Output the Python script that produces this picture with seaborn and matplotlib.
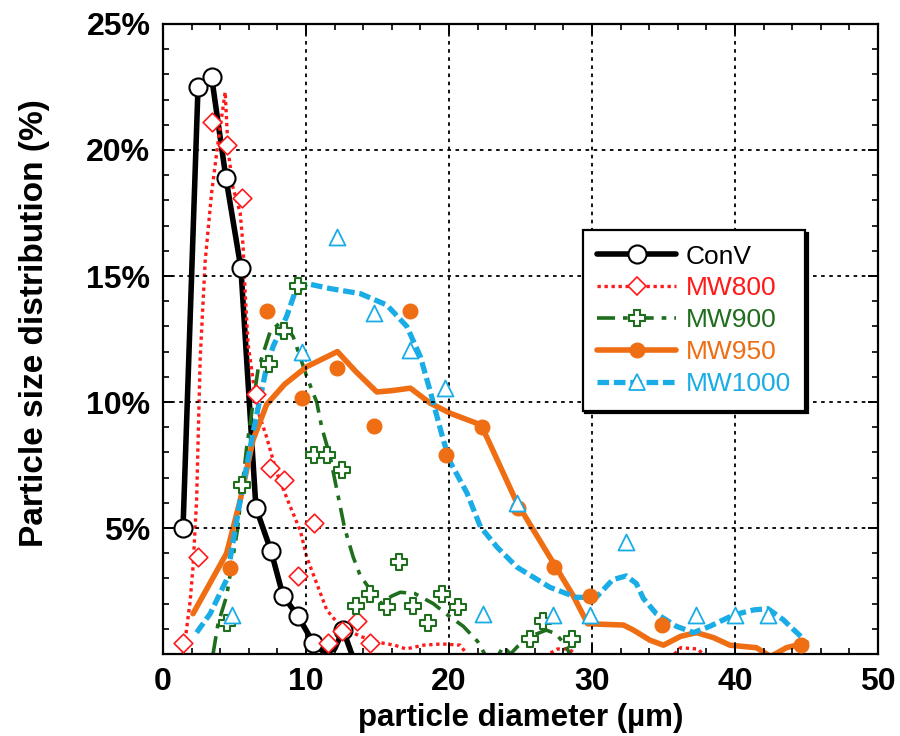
import matplotlib
matplotlib.use("Agg")
import matplotlib.pyplot as plt
from matplotlib.lines import Line2D
from matplotlib.ticker import MultipleLocator, FixedLocator
import seaborn as sns

# ---------------- data (x in µm, y in %) ----------------
conv_x = [1.4, 2.45, 3.4, 4.4, 5.45, 6.5, 7.55, 8.4, 9.45, 10.5, 12.6]
conv_y = [5.0, 22.5, 22.9, 18.9, 15.3, 5.8, 4.1, 2.3, 1.5, 0.45, 0.95]
conv_fit_x = [1.4, 2.45, 3.4, 4.4, 5.45, 6.5, 7.55, 8.4, 9.45, 10.5, 11.3, 12.0, 12.6, 13.2]
conv_fit_y = [5.0, 22.5, 22.9, 18.9, 15.3, 5.8, 4.1, 2.3, 1.5, 0.45, 0.05, 0.2, 0.95, 0.0]

mw800_x = [1.4, 2.45, 3.4, 4.45, 5.5, 6.5, 7.5, 8.45, 9.45, 10.55, 11.55, 12.5, 13.55, 14.5]
mw800_y = [0.45, 3.85, 21.1, 20.2, 18.1, 10.3, 7.4, 6.9, 3.1, 5.2, 0.45, 0.9, 1.3, 0.45]
mw800_fit_x = [1.4, 1.55, 1.9, 2.1, 2.35, 2.6, 2.95, 3.4, 3.85, 4.35, 4.55, 4.9, 5.4, 5.6,
               5.75, 5.95, 6.1, 6.55, 7.25, 7.95, 8.9, 9.6, 10.05, 10.75, 11.45, 12.4,
               13.8, 15.2, 16.2, 17.0, 18.2, 19.5, 20.8, 21.6, 24.0, 26.0, 27.6, 28.4,
               29.4, 32.0, 35.6, 36.2, 37.4, 38.3]
mw800_fit_y = [0.0, 0.55, 2.1, 3.45, 6.1, 11.7, 15.6, 18.3, 20.3, 22.3, 20.0, 18.5, 17.5, 16.2,
               14.3, 12.3, 11.7, 9.8, 8.6, 7.2, 5.85, 4.9, 3.85, 2.8, 1.75, 1.1,
               0.7, 0.45, 0.35, 0.2, 0.35, 0.4, 0.35, -0.3, -0.5, -0.3, 0.2, 0.2,
               -0.3, -0.6, -0.1, 0.25, 0.2, -0.3]

mw900_x = [4.45, 5.5, 7.4, 8.45, 9.45, 10.55, 11.5, 12.5, 13.5, 14.5, 15.65, 16.5,
           17.5, 18.55, 19.5, 20.6, 25.7, 26.6, 28.6]
mw900_y = [1.25, 6.7, 11.5, 12.8, 14.6, 7.9, 7.9, 7.3, 1.9, 2.4, 1.85, 3.65,
           1.9, 1.25, 2.4, 1.85, 0.6, 1.3, 0.6]
mw900_fit_x = [3.5, 3.85, 4.45, 5.2, 5.85, 6.65, 7.5, 8.3, 9.1, 10.0, 10.4, 10.75, 11.1,
               11.7, 12.2, 12.7, 13.3, 13.8, 15.2, 16.0, 16.6, 17.6, 18.9, 19.9, 21.0,
               22.0, 22.5, 23.2, 23.8, 24.3, 24.8, 25.7, 26.8, 27.5, 28.2, 28.6]
mw900_fit_y = [0.0, 1.2, 2.3, 4.9, 8.2, 11.3, 12.8, 13.2, 12.6, 11.1, 10.5, 10.0, 9.0,
               7.8, 6.4, 5.0, 3.85, 3.1, 2.0, 2.3, 2.45, 2.4, 2.0, 1.55, 1.1,
               0.5, 0.0, -0.3, 0.3, 0.0, 0.3, 0.7, 0.95, 0.8, 0.3, -0.2]

mw950_x = [4.7, 7.25, 9.7, 12.15, 14.75, 17.3, 19.8, 22.3, 24.8, 27.35, 29.85, 34.9, 44.6]
mw950_y = [3.4, 13.6, 10.15, 11.35, 9.05, 13.6, 7.9, 9.0, 5.8, 3.45, 2.3, 1.15, 0.35]
mw950_fit_x = [2.1, 4.45, 5.4, 6.3, 7.25, 8.5, 10.05, 12.2, 13.5, 14.95, 16.0, 17.3, 18.7,
               20.1, 22.2, 22.65, 24.75, 27.05, 28.7, 29.7, 32.2, 32.9, 34.05, 35.0,
               36.2, 37.3, 38.5, 39.65, 41.5, 42.5, 43.6, 45.0]
mw950_fit_y = [1.6, 4.0, 6.1, 8.5, 9.9, 10.7, 11.4, 12.0, 11.2, 10.4, 10.45, 10.55, 9.95,
               9.55, 9.1, 8.6, 6.0, 3.85, 2.3, 1.2, 1.15, 0.95, 0.55, 0.35,
               0.7, 0.85, 0.65, 0.35, 0.25, -0.1, 0.25, 0.45]

mw1000_x = [4.8, 9.7, 12.2, 14.75, 17.3, 19.7, 22.4, 24.75, 27.3, 29.85, 32.4, 37.3, 40.0, 42.3]
mw1000_y = [1.55, 12.0, 16.55, 13.55, 12.05, 10.55, 1.6, 6.0, 1.55, 1.55, 4.45, 1.55, 1.55, 1.55]
mw1000_fit_x = [2.35, 3.3, 4.45, 5.4, 6.3, 7.25, 7.7, 8.65, 9.2, 10.05, 11.7, 13.8, 15.65,
                17.05, 18.0, 18.65, 19.6, 20.1, 21.25, 22.2, 23.35, 24.75, 27.05, 28.9,
                30.3, 31.45, 32.4, 33.1, 33.6, 34.5, 35.9, 37.1, 38.25, 39.9, 41.3, 42.3,
                43.4, 43.85, 44.7]
mw1000_fit_y = [0.85, 1.6, 2.95, 6.1, 8.8, 11.4, 12.2, 13.4, 14.3, 14.7, 14.5, 14.3, 13.85,
                13.0, 11.8, 10.5, 8.5, 7.6, 6.4, 5.05, 4.25, 3.45, 2.65, 2.25,
                2.25, 2.95, 3.1, 2.8, 2.2, 1.6, 1.1, 0.85, 1.1, 1.55, 1.75, 1.8,
                1.35, 1.1, 0.65]

series_names = ["ConV", "MW800", "MW900", "MW950", "MW1000"]
x_ticks = [0, 10, 20, 30, 40, 50]
y_ticks = [0, 5, 10, 15, 20, 25]
y_tick_labels = ["", "5%", "10%", "15%", "20%", "25%"]

# ---------------- styling ----------------
sns.set_theme(style="white")
plt.rcParams["font.family"] = ["Liberation Sans", "DejaVu Sans"]
plt.rcParams["text.color"] = "black"
plt.rcParams["axes.labelcolor"] = "black"
plt.rcParams["xtick.color"] = "black"
plt.rcParams["ytick.color"] = "black"

C_BLACK = "#000000"
C_RED = "#FF1A1A"
C_GREEN = "#1E6E1E"
C_ORANGE = "#EF6E14"
C_BLUE = "#1AACE6"

styles = [
    dict(color=C_BLACK, lw=4.0, ls="-", marker="o", ms=13, mfc="white", mec=C_BLACK, mew=1.5),
    dict(color=C_RED, lw=2.4, ls=(0, (1, 1.1)), marker="D", ms=9.5, mfc="white", mec=C_RED, mew=1.2),
    dict(color=C_GREEN, lw=2.6, ls=(0, (5, 2.2, 1.3, 2.2)), marker="P", ms=11.5, mfc="white", mec=C_GREEN, mew=1.5),
    dict(color=C_ORANGE, lw=4.0, ls="-", marker="o", ms=10.5, mfc=C_ORANGE, mec=C_ORANGE, mew=1.0),
    dict(color=C_BLUE, lw=3.8, ls=(0, (2.2, 0.9)), marker="^", ms=11.5, mfc="white", mec=C_BLUE, mew=1.3),
]

marks = [(conv_x, conv_y), (mw800_x, mw800_y), (mw900_x, mw900_y),
         (mw950_x, mw950_y), (mw1000_x, mw1000_y)]
fits = [(conv_fit_x, conv_fit_y), (mw800_fit_x, mw800_fit_y), (mw900_fit_x, mw900_fit_y),
        (mw950_fit_x, mw950_fit_y), (mw1000_fit_x, mw1000_fit_y)]

fig = plt.figure(figsize=(9, 7.36), dpi=100)
ax = fig.add_axes([0.1811, 0.1114, 0.7944, 0.856])

for (fx, fy), (mx, my), st in zip(fits, marks, styles):
    sns.lineplot(x=fx, y=fy, ax=ax, sort=False, estimator=None, color=st["color"],
                 linewidth=st["lw"], linestyle=st["ls"], legend=False)
    sns.scatterplot(x=mx, y=my, ax=ax, marker=st["marker"], s=st["ms"] ** 2,
                    facecolor=st["mfc"], edgecolor=st["mec"], linewidth=st["mew"],
                    legend=False, zorder=3)

ax.set_xlim(0, 50)
ax.set_ylim(0, 25)
ax.xaxis.set_major_locator(FixedLocator(x_ticks))
ax.set_xticklabels([str(t) for t in x_ticks])
ax.xaxis.set_minor_locator(MultipleLocator(2))
ax.yaxis.set_major_locator(FixedLocator(y_ticks))
ax.set_yticklabels(y_tick_labels)
ax.yaxis.set_minor_locator(MultipleLocator(1))

ax.grid(True, which="major", color="black", linestyle=(0, (2, 2.5)), linewidth=1.3)
ax.set_axisbelow(False)
for sp in ax.spines.values():
    sp.set_color("black")
    sp.set_linewidth(1.6)
    sp.set_visible(True)

ax.tick_params(which="both", direction="in", top=True, right=True, bottom=True, left=True,
               color="black", labelcolor="black")
ax.tick_params(which="major", length=7, width=1.4, labelsize=23, pad=9)
ax.tick_params(which="minor", length=4.5, width=1.2)
for lab in ax.get_xticklabels() + ax.get_yticklabels():
    lab.set_fontweight("bold")

ax.set_xlabel("particle diameter (µm)", fontsize=22.5, fontweight="bold", labelpad=5)
ax.set_ylabel("Particle size distribution (%)", fontsize=24, fontweight="bold")
ax.yaxis.set_label_coords(-0.158, 0.525)

handles = [Line2D([], [], color=st["color"], lw=st["lw"], ls=st["ls"], marker=st["marker"],
                  ms=st["ms"], mfc=st["mfc"], mec=st["mec"], mew=st["mew"]) for st in styles]
leg = ax.legend(handles, series_names, loc="upper left", bbox_to_anchor=(0.587, 0.673),
                borderaxespad=0, fontsize=19, frameon=True, fancybox=False,
                edgecolor="black", framealpha=1, handlelength=3.0, handletextpad=0.35,
                labelspacing=0.3, borderpad=0.55, numpoints=1,
                shadow={"color": "black", "alpha": 1})
leg.get_frame().set_linewidth(1.6)
for txt, st in zip(leg.get_texts(), styles):
    txt.set_color(st["color"])
leg.set_zorder(5)

fig.savefig("out.png", dpi=100)
